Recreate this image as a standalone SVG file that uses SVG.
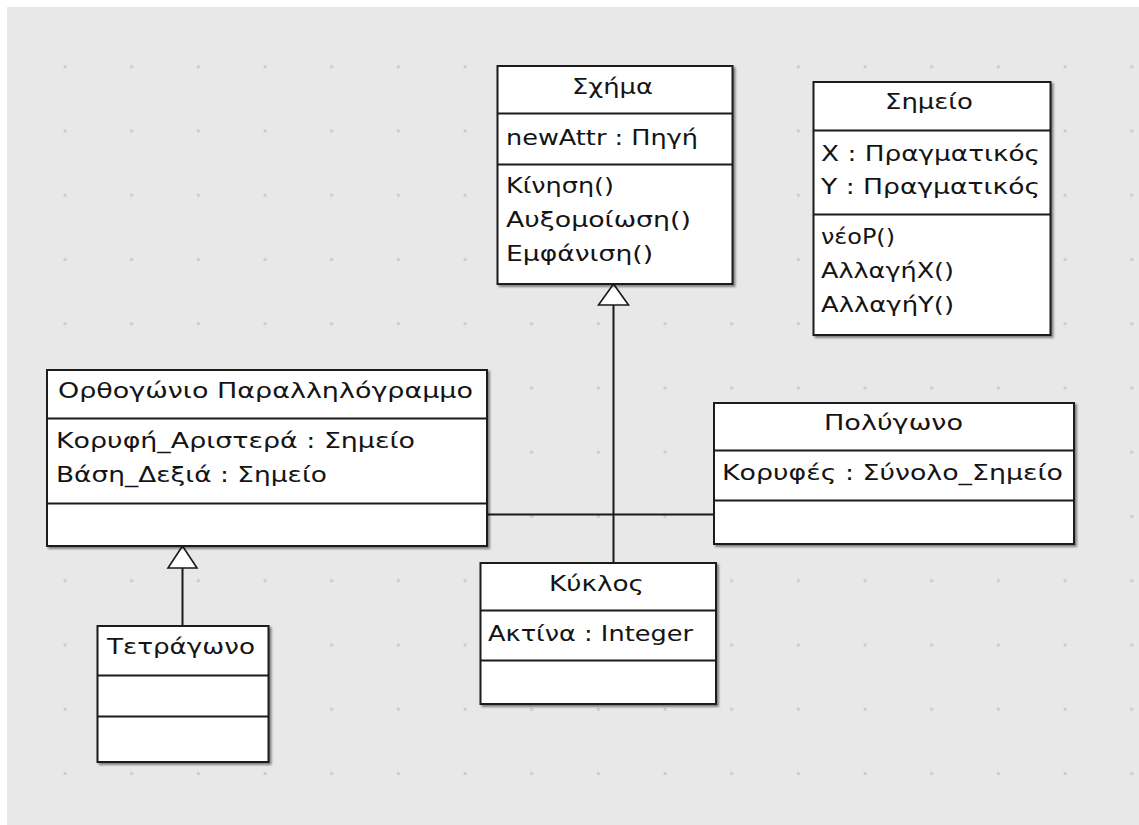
<svg xmlns="http://www.w3.org/2000/svg" width="1139" height="825" viewBox="0 0 1139 825">
  <style>
    .box { fill: #ffffff; stroke: #1a1a1a; stroke-width: 2; filter: url(#shadow); }
    .div { stroke: #1a1a1a; stroke-width: 2; fill: none; }
    .txt { font-family: "DejaVu Sans", "Liberation Sans", sans-serif; font-size: 21px; fill: #141414; }
    .edge { stroke: #1a1a1a; stroke-width: 2; fill: none; }
    .gen { fill: #ffffff; stroke: #1a1a1a; stroke-width: 1.6; stroke-linejoin: miter; }
  </style>
  <defs>
    <filter id="shadow" x="-5%" y="-5%" width="115%" height="115%">
      <feDropShadow dx="2" dy="2" stdDeviation="1" flood-color="#000000" flood-opacity="0.45"/>
    </filter>
    <pattern id="grid" patternUnits="userSpaceOnUse" x="0" y="0" width="66.67" height="64.25">
      <rect x="63.5" y="1" width="3" height="3" fill="#cdcdcd"/>
    </pattern>
  </defs>

  <!-- canvas -->
  <rect x="0" y="0" width="1139" height="825" fill="#ffffff"/>
  <rect x="7" y="7" width="1132" height="818" fill="#e8e8e8"/>
  <rect x="7" y="7" width="1132" height="818" fill="url(#grid)"/>

  <!-- connectors -->
  <g id="connectors">
    <line class="edge" x1="485" y1="514.5" x2="714" y2="514.5"/>
    <line class="edge" x1="613.5" y1="305" x2="613.5" y2="563"/>
    <polygon class="gen" points="613.5,284 598.5,305 628.5,305"/>
    <line class="edge" x1="182.5" y1="568" x2="182.5" y2="626"/>
    <polygon class="gen" points="182.5,546 168,568 197,568"/>
  </g>

  <!-- class Σχήμα -->
  <g id="shape">
    <rect class="box" x="497.5" y="66" width="235" height="218"/>
    <line class="div" x1="497.5" y1="113.5" x2="732.5" y2="113.5"/>
    <line class="div" x1="497.5" y1="164.5" x2="732.5" y2="164.5"/>
    <text class="txt" x="572" y="94" textLength="81" lengthAdjust="spacingAndGlyphs">Σχήμα</text>
    <text class="txt" x="506" y="145" textLength="192" lengthAdjust="spacingAndGlyphs">newAttr : Πηγή</text>
    <text class="txt" x="506" y="193" textLength="108" lengthAdjust="spacingAndGlyphs">Κίνηση()</text>
    <text class="txt" x="506" y="227" textLength="185" lengthAdjust="spacingAndGlyphs">Αυξομοίωση()</text>
    <text class="txt" x="506" y="261" textLength="147" lengthAdjust="spacingAndGlyphs">Εμφάνιση()</text>
  </g>

  <!-- class Σημείο -->
  <g id="point">
    <rect class="box" x="813.5" y="82" width="237" height="253"/>
    <line class="div" x1="813.5" y1="130.5" x2="1050.5" y2="130.5"/>
    <line class="div" x1="813.5" y1="214.5" x2="1050.5" y2="214.5"/>
    <text class="txt" x="885" y="109" textLength="88" lengthAdjust="spacingAndGlyphs">Σημείο</text>
    <text class="txt" x="821" y="161" textLength="219" lengthAdjust="spacingAndGlyphs">X : Πραγματικός</text>
    <text class="txt" x="821" y="194" textLength="219" lengthAdjust="spacingAndGlyphs">Y : Πραγματικός</text>
    <text class="txt" x="821" y="244" textLength="74" lengthAdjust="spacingAndGlyphs">νέοP()</text>
    <text class="txt" x="821" y="278" textLength="133" lengthAdjust="spacingAndGlyphs">ΑλλαγήX()</text>
    <text class="txt" x="821" y="312" textLength="133" lengthAdjust="spacingAndGlyphs">ΑλλαγήY()</text>
  </g>

  <!-- class Ορθογώνιο Παραλληλόγραμμο -->
  <g id="rectangle">
    <rect class="box" x="47" y="370" width="440" height="176"/>
    <line class="div" x1="47" y1="418.5" x2="487" y2="418.5"/>
    <line class="div" x1="47" y1="503.5" x2="487" y2="503.5"/>
    <text class="txt" x="58" y="398" textLength="415" lengthAdjust="spacingAndGlyphs">Ορθογώνιο Παραλληλόγραμμο</text>
    <text class="txt" x="56" y="448" textLength="359" lengthAdjust="spacingAndGlyphs">Κορυφή_Αριστερά : Σημείο</text>
    <text class="txt" x="56" y="482" textLength="271" lengthAdjust="spacingAndGlyphs">Βάση_Δεξιά : Σημείο</text>
  </g>

  <!-- class Πολύγωνο -->
  <g id="polygon">
    <rect class="box" x="714" y="403" width="360" height="141"/>
    <line class="div" x1="714" y1="450.5" x2="1074" y2="450.5"/>
    <line class="div" x1="714" y1="500.5" x2="1074" y2="500.5"/>
    <text class="txt" x="824" y="430" textLength="139" lengthAdjust="spacingAndGlyphs">Πολύγωνο</text>
    <text class="txt" x="722" y="480" textLength="341" lengthAdjust="spacingAndGlyphs">Κορυφές : Σύνολο_Σημείο</text>
  </g>

  <!-- class Κύκλος -->
  <g id="circle">
    <rect class="box" x="480.5" y="563" width="235.5" height="141"/>
    <line class="div" x1="480.5" y1="610.5" x2="716" y2="610.5"/>
    <line class="div" x1="480.5" y1="660.5" x2="716" y2="660.5"/>
    <text class="txt" x="549" y="591" textLength="95" lengthAdjust="spacingAndGlyphs">Κύκλος</text>
    <text class="txt" x="488" y="641" textLength="205" lengthAdjust="spacingAndGlyphs">Ακτίνα : Integer</text>
  </g>

  <!-- class Τετράγωνο -->
  <g id="square">
    <rect class="box" x="97.5" y="626" width="171" height="136"/>
    <line class="div" x1="97.5" y1="675.5" x2="268.5" y2="675.5"/>
    <line class="div" x1="97.5" y1="716.5" x2="268.5" y2="716.5"/>
    <text class="txt" x="107" y="654" textLength="148" lengthAdjust="spacingAndGlyphs">Τετράγωνο</text>
  </g>
</svg>
